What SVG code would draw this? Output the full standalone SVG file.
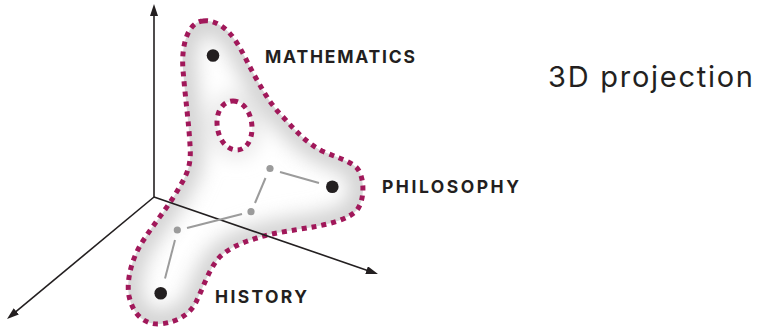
<svg xmlns="http://www.w3.org/2000/svg" width="758" height="328" viewBox="0 0 758 328">
  <style>
    .axis { stroke: #231f20; stroke-width: 1.6; fill: none; }
    .dotted { fill: none; stroke: #a1185a; stroke-width: 5; stroke-dasharray: 5 5; }
    .link { stroke: #9b9b9b; stroke-width: 2; fill: none; }
    .small { fill: #9b9b9b; }
    .big { fill: #231f20; }
    .label { font-family: Inter, Roboto, "Liberation Sans", sans-serif; font-weight: 700; font-size: 17.5px; fill: #231f20; }
    .title { font-family: Inter, Roboto, "Liberation Sans", sans-serif; font-weight: 400; font-size: 29px; fill: #231f20; }
  </style>
  <defs>
    <marker id="arrow" viewBox="0 0 12 8" refX="4" refY="4" markerWidth="12" markerHeight="8" markerUnits="userSpaceOnUse" orient="auto">
      <path d="M0,0 L12,4 L0,8 Z" fill="#231f20"/>
    </marker>
    <path id="outer" d="M203,21 C214,19 228,28 237,43 C245,56 250,68 257,80 C266,96 272,106 283,117 C295,130 305,142 322,151 C335,157 348,160 356,167 C364,174 366,198 357,210 C349,219 330,224 313,227 C295,230 272,233 257,238 C240,243 225,250 217,260 C208,272 203,288 197,300 C192,312 180,322 160,324 C145,325 133,315 129,296 C126,280 132,256 145,238 C155,222 170,205 180,186 C190,170 191,160 190,145 C189,125 185,95 183,70 C181,45 188,22 203,21 Z"/>
    <path id="hole" d="M233,101 C244,101 252,114 252,128 C252,142 245,150 237,150 C226,150 217,138 217,122 C217,110 224,101 233,101 Z"/>
    <clipPath id="blobClip">
      <path clip-rule="evenodd" d="M203,21 C214,19 228,28 237,43 C245,56 250,68 257,80 C266,96 272,106 283,117 C295,130 305,142 322,151 C335,157 348,160 356,167 C364,174 366,198 357,210 C349,219 330,224 313,227 C295,230 272,233 257,238 C240,243 225,250 217,260 C208,272 203,288 197,300 C192,312 180,322 160,324 C145,325 133,315 129,296 C126,280 132,256 145,238 C155,222 170,205 180,186 C190,170 191,160 190,145 C189,125 185,95 183,70 C181,45 188,22 203,21 Z M233,101 C244,101 252,114 252,128 C252,142 245,150 237,150 C226,150 217,138 217,122 C217,110 224,101 233,101 Z"/>
    </clipPath>
    <filter id="blur" x="-20%" y="-20%" width="140%" height="140%">
      <feGaussianBlur stdDeviation="10"/>
    </filter>
  </defs>

  <g id="blob">
    <rect x="100" y="0" width="300" height="328" fill="#ffffff" clip-path="url(#blobClip)"/>
    <g clip-path="url(#blobClip)">
      <g filter="url(#blur)">
        <use href="#outer" fill="none" stroke="#d0d0d0" stroke-width="26"/>
        <use href="#hole" fill="none" stroke="#e2e2e2" stroke-width="14"/>
      </g>
    </g>
    <use href="#outer" class="dotted"/>
    <use href="#hole" class="dotted"/>
  </g>

  <g id="axes">
    <line class="axis" x1="154" y1="197" x2="154" y2="12" marker-end="url(#arrow)"/>
    <line class="axis" x1="154" y1="197" x2="370.4" y2="271.4" marker-end="url(#arrow)"/>
    <line class="axis" x1="154" y1="197" x2="13.2" y2="313.9" marker-end="url(#arrow)"/>
  </g>

  <g id="connectors">
    <line class="link" x1="280" y1="172" x2="319" y2="183"/>
    <line class="link" x1="265.5" y1="178" x2="255" y2="203"/>
    <line class="link" x1="187" y1="228" x2="242" y2="214"/>
    <line class="link" x1="175" y1="240" x2="165" y2="278.5"/>
  </g>

  <g id="p1"><circle class="small" cx="270" cy="168.5" r="3.6"/></g>
  <g id="p2"><circle class="small" cx="251" cy="211.7" r="3.6"/></g>
  <g id="p3"><circle class="small" cx="177.3" cy="230" r="3.6"/></g>

  <g id="mathematics">
    <circle class="big" cx="213" cy="55.5" r="6.3"/>
    <text class="label" x="265" y="62.5" textLength="150" lengthAdjust="spacing">MATHEMATICS</text>
  </g>
  <g id="philosophy">
    <circle class="big" cx="332.3" cy="186.7" r="6.3"/>
    <text class="label" x="382" y="192.5" textLength="137" lengthAdjust="spacing">PHILOSOPHY</text>
  </g>
  <g id="history">
    <circle class="big" cx="160.7" cy="293.3" r="6.3"/>
    <text class="label" x="215" y="302.5" textLength="92" lengthAdjust="spacing">HISTORY</text>
  </g>

  <g id="title">
    <text class="title" x="548" y="86.5" textLength="205" lengthAdjust="spacing">3D projection</text>
  </g>
</svg>
